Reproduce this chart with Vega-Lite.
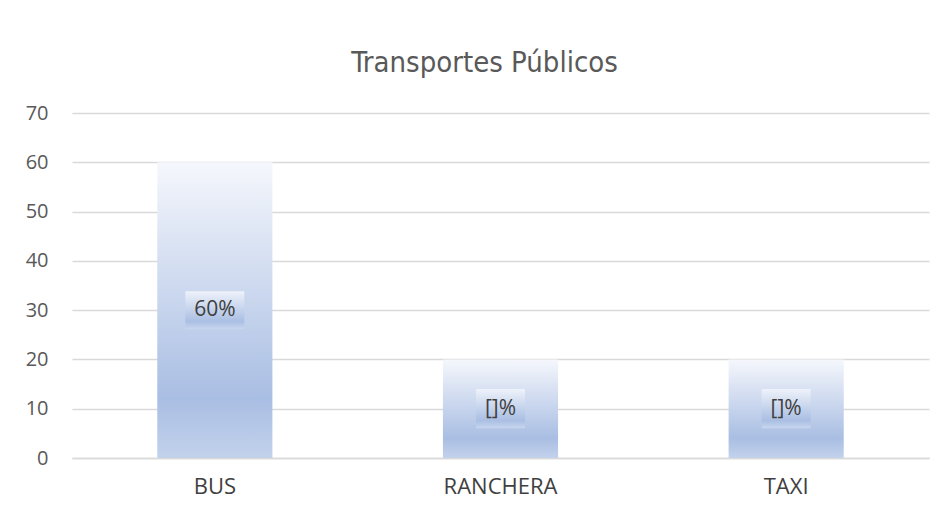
{
  "$schema": "https://vega.github.io/schema/vega-lite/v6.json",
  "width": 857,
  "height": 345,
  "autosize": "none",
  "padding": {"left": 72, "top": 113, "right": 18, "bottom": 65},
  "background": "#ffffff",
  "title": {
    "text": "Transportes Públicos",
    "font": "DejaVu Sans Condensed, Liberation Sans Narrow, Roboto, sans-serif",
    "fontSize": 29,
    "fontWeight": "normal",
    "color": "#595959",
    "anchor": "middle",
    "dx": -16,
    "offset": 25
  },
  "data": {
    "values": [
      {"transporte": "BUS", "valor": 60, "etiqueta": "60%"},
      {"transporte": "RANCHERA", "valor": 20, "etiqueta": "[]%"},
      {"transporte": "TAXI", "valor": 20, "etiqueta": "[]%"}
    ]
  },
  "encoding": {
    "x": {
      "field": "transporte",
      "type": "nominal",
      "sort": null,
      "scale": {"paddingInner": 0, "paddingOuter": 0},
      "axis": {
        "title": null,
        "labelAngle": 0,
        "ticks": false,
        "domainColor": "#d9d9d9",
        "domainWidth": 1.3,
        "labelFont": "Open Sans",
        "labelFontSize": 22,
        "labelColor": "#404040",
        "labelPadding": 18
      }
    }
  },
  "layer": [
    {
      "mark": {
        "type": "bar",
        "width": {"band": 0.403},
        "color": {
          "gradient": "linear",
          "x1": 0, "y1": 0, "x2": 0, "y2": 1,
          "stops": [
            {"offset": 0, "color": "#f5f7fc"},
            {"offset": 0.8, "color": "#a9bee3"},
            {"offset": 1, "color": "#c3d2ec"}
          ]
        }
      },
      "encoding": {
        "y": {
          "field": "valor",
          "type": "quantitative",
          "scale": {"domain": [0, 70]},
          "axis": {
            "title": null,
            "values": [0, 10, 20, 30, 40, 50, 60, 70],
            "ticks": false,
            "domain": false,
            "gridColor": "#d9d9d9",
            "gridWidth": 1.3,
            "labelFont": "Open Sans",
            "labelFontSize": 20,
            "labelColor": "#595959",
            "labelPadding": 24
          }
        }
      }
    },
    {
      "encoding": {
        "y": {
          "field": "valor",
          "type": "quantitative",
          "scale": {"domain": [0, 140]},
          "axis": null
        }
      },
      "layer": [
        {
          "mark": {
            "type": "point",
            "filled": true,
            "opacity": 1,
            "strokeWidth": 0,
            "fill": {
              "gradient": "linear",
              "x1": 0, "y1": 0, "x2": 0, "y2": 1,
              "stops": [
                {"offset": 0, "color": "#eef2fa"},
                {"offset": 0.8, "color": "#aabfe3"},
                {"offset": 1, "color": "#c8d6ee"}
              ]
            }
          },
          "encoding": {
            "shape": {
              "condition": {"test": "datum.etiqueta == '60%'", "value": "M-1,-0.644H1V0.644H-1Z"},
              "value": "M-1,-0.8H1V0.8H-1Z"
            },
            "size": {
              "condition": {"test": "datum.etiqueta == '60%'", "value": 3481},
              "value": 2401
            }
          }
        },
        {
          "mark": {
            "type": "text",
            "font": "Open Sans",
            "fontSize": 21,
            "color": "#404040",
            "baseline": "middle",
            "align": "center"
          },
          "encoding": {
            "text": {"field": "etiqueta"}
          }
        }
      ]
    }
  ],
  "resolve": {"scale": {"y": "independent"}, "axis": {"y": "independent"}},
  "config": {
    "view": {"stroke": null}
  }
}
